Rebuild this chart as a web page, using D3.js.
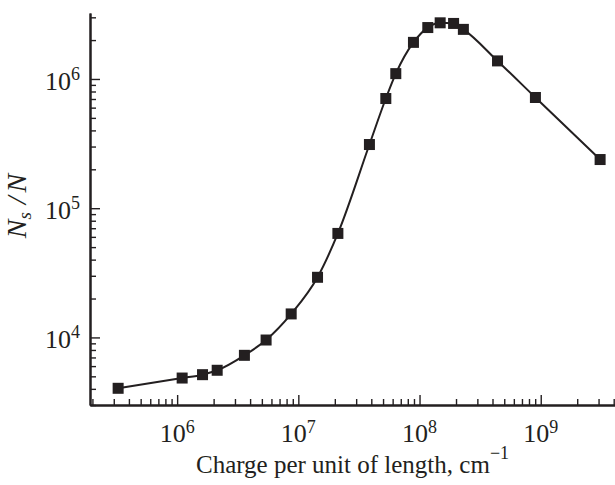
<!DOCTYPE html>
<html>
<head>
<meta charset="utf-8">
<script src="https://cdn.jsdelivr.net/npm/d3@7"></script>
<style>
  body { margin: 0; background: #fff; }
  text { font-family: "Liberation Serif", "Times New Roman", serif; fill: #231f20; }
</style>
</head>
<body>
<div id="chart"></div>
<script>
var charge = [3.26e5, 1.10e6, 1.62e6, 2.14e6, 3.59e6, 5.42e6, 8.73e6, 1.44e7, 2.12e7, 3.86e7,
              5.27e7, 6.37e7, 8.91e7, 1.17e8, 1.48e8, 1.91e8, 2.30e8, 4.40e8, 9.04e8, 3.09e9];
var ratio = [4.04e3, 4.85e3, 5.15e3, 5.57e3, 7.27e3, 9.55e3, 1.52e4, 2.92e4, 6.38e4, 3.11e5,
             7.06e5, 1.10e6, 1.92e6, 2.50e6, 2.72e6, 2.69e6, 2.42e6, 1.38e6, 7.19e5, 2.38e5];

var xDecades = [6, 7, 8, 9];
var yDecades = [4, 5, 6];

function init() {

	var w = 615;
	var h = 485;
	var ink = "#231f20";

	var left = 90, right = 615, top = 13, bottom = 405;

	var xScale = d3.scaleLog()
				.domain([1.91e5, 4.1e9])
				.range([left, right]);

	var yScale = d3.scaleLog()
				.domain([3.0e3, 3.24e6])
				.range([bottom, top]);

	var svg = d3.select("#chart")
				.append("svg")
				.attr("width", w)
				.attr("height", h);

	// minor ticks: 2..9 in each decade that falls inside the domain
	function minors(scale) {
		var d = scale.domain(), out = [];
		for (var e = -1; e < 12; e++) {
			for (var k = 2; k <= 9; k++) {
				var v = k * Math.pow(10, e);
				if (v >= d[0] && v <= d[1]) out.push(v);
			}
		}
		return out;
	}

	var xMajor = xDecades.map(function(e){ return Math.pow(10, e); });
	var yMajor = yDecades.map(function(e){ return Math.pow(10, e); });

	// x axis (ticks point inward)
	var gx = svg.append("g").attr("transform", "translate(0," + bottom + ")");
	gx.append("g").call(d3.axisBottom(xScale).tickValues(minors(xScale)).tickSize(-6).tickSizeOuter(0).tickFormat(""));
	gx.append("g").call(d3.axisBottom(xScale).tickValues(xMajor).tickSize(-10).tickSizeOuter(0).tickFormat(""));

	// y axis
	var gy = svg.append("g").attr("transform", "translate(" + left + ",0)");
	gy.append("g").call(d3.axisLeft(yScale).tickValues(minors(yScale)).tickSize(-6).tickSizeOuter(0).tickFormat(""));
	gy.append("g").call(d3.axisLeft(yScale).tickValues(yMajor).tickSize(-10).tickSizeOuter(0).tickFormat(""));

	svg.selectAll(".domain").attr("stroke", ink).attr("stroke-width", 2);
	svg.selectAll(".tick line").attr("stroke", ink).attr("stroke-width", 1.4);

	// x tick labels 10^n
	var xl = svg.selectAll(".xlab")
			.data(xDecades)
			.enter()
			.append("text")
			.attr("class", "xlab")
			.attr("x", function(d){ return xScale(Math.pow(10, d)); })
			.attr("y", bottom + 37)
			.attr("text-anchor", "middle")
			.style("font-size", "26px");
	xl.append("tspan").text("10");
	xl.append("tspan").attr("dy", -9).style("font-size", "18px").text(function(d){ return d; });

	// y tick labels
	var yl = svg.selectAll(".ylab")
			.data(yDecades)
			.enter()
			.append("text")
			.attr("class", "ylab")
			.attr("x", 80)
			.attr("y", function(d){ return yScale(Math.pow(10, d)) + 11; })
			.attr("text-anchor", "end")
			.style("font-size", "26px");
	yl.append("tspan").text("10");
	yl.append("tspan").attr("dy", -10).style("font-size", "18px").text(function(d){ return d; });

	// axis titles
	var xt = svg.append("text")
			.attr("x", (left + right) / 2)
			.attr("y", 473)
			.attr("text-anchor", "middle")
			.style("font-size", "25px");
	xt.append("tspan").text("Charge per unit of length, cm");
	xt.append("tspan").attr("dy", -14).style("font-size", "18px").text("\u22121");

	var yt = svg.append("text")
			.attr("transform", "translate(26," + 206 + ") rotate(-90)")
			.attr("text-anchor", "middle")
			.style("font-size", "28px")
			.style("font-style", "italic");
	yt.append("tspan").text("N");
	yt.append("tspan").attr("dy", 5).style("font-size", "19px").text("s");
	yt.append("tspan").attr("dy", -5).attr("dx", 8).text("/");
	yt.append("tspan").attr("dx", 4).text("N");

	// curve
	var pts = charge.map(function(c, i){ return [c, ratio[i]]; });

	var line = d3.line()
			.x(function(d){ return xScale(d[0]); })
			.y(function(d){ return yScale(d[1]); })
			.curve(d3.curveMonotoneX);

	svg.append("path")
			.datum(pts)
			.attr("d", line)
			.attr("fill", "none")
			.attr("stroke", ink)
			.attr("stroke-width", 2);

	var s = 11;
	svg.selectAll("rect.pt")
			.data(pts)
			.enter()
			.append("rect")
			.attr("class", "pt")
			.attr("x", function(d){ return xScale(d[0]) - s / 2; })
			.attr("y", function(d){ return yScale(d[1]) - s / 2; })
			.attr("width", s)
			.attr("height", s)
			.attr("fill", ink);
}

window.onload = init;
</script>
</body>
</html>
